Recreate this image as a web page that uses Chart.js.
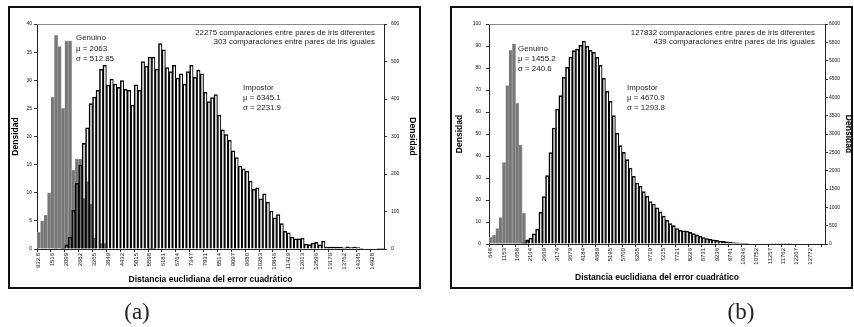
<!DOCTYPE html>
<html>
<head>
<meta charset="utf-8">
<script src="https://cdn.jsdelivr.net/npm/chart.js@4.4.1/dist/chart.umd.min.js"></script>
<style>
  html, body { margin:0; padding:0; background:#fff; }
  #page { position:relative; width:854px; height:327px; overflow:hidden; background:#fff; }
  .frame { position:absolute; border:2px solid #111; box-sizing:border-box; }
  canvas { position:absolute; top:0; }
  .txt { position:absolute; font-family:"Liberation Sans", Arial, sans-serif; font-size:7.9px; color:#222; white-space:nowrap; }
  .lbl { position:absolute; font-family:"Liberation Serif", "Times New Roman", serif; font-size:23px; line-height:23px; color:#222; width:60px; text-align:center; }
</style>
</head>
<body>
<div id="page">
  <div class="frame" style="left:8px; top:6px; width:413px; height:283px;"></div>
  <div class="frame" style="left:450px; top:6px; width:403px; height:283px;"></div>
  <canvas id="ca" width="430" height="327" style="left:0px;"></canvas>
  <canvas id="cb" width="424" height="327" style="left:430px;"></canvas>

  <div class="txt" style="right:479px; top:28px; line-height:9.4px; text-align:right;">22275 comparaciones entre pares de iris diferentes<br>303 comparaciones entre pares de iris iguales</div>
  <div class="txt" style="left:76px; top:33px; line-height:10.5px;">Genuino<br>&mu; = 2063<br>&sigma; = 512.85</div>
  <div class="txt" style="left:243px; top:83px; line-height:10px;">Impostor<br>&mu; = 6345.1<br>&sigma; = 2231.9</div>

  <div class="txt" style="right:39px; top:28px; line-height:9.4px; text-align:right;">127832 comparaciones entre pares de iris diferentes<br>439 comparaciones entre pares de iris iguales</div>
  <div class="txt" style="left:518px; top:44px; line-height:10px;">Genuino<br>&mu; = 1455.2<br>&sigma; = 240.6</div>
  <div class="txt" style="left:627px; top:83px; line-height:10px;">Impostor<br>&mu; = 4670.9<br>&sigma; = 1293.8</div>

  <div class="lbl" style="left:107px; top:300px;">(a)</div>
  <div class="lbl" style="left:711px; top:300px;">(b)</div>
</div>
<script>
// ---------- Panel (a) ----------
const ticksA = ['932.8','1516','2099','2682','3265','3849','4432','5015','5598','6181','6764','7347','7931','8514','9097','9680','10263','10846','11429','12013','12596','13179','13762','14345','14928'];
const genuineA = [3,5,6,10,27,38,36,25,37,37,14,16,16,9,12,8,2,0,1,1,
  0,0,0,0,0,0,0,0,0,0,0,0,0,0,0,0,0,0,0,0,0,0,0,0,0,0,0,0,0,0,
  0,0,0,0,0,0,0,0,0,0,0,0,0,0,0,0,0,0,0,0,0,0,0,0,0,0,0,0,0,0,
  0,0,0,0,0,0,0,0,0,0,0,0,0,0,0,0,0,0,0,0];
const impostorA = [0,0,0,0,0,0,0,2,11,32,103,175,224,
  282,323,388,405,423,479,490,437,453,440,431,449,426,423,384,438,423,500,487,512,512,480,548,531,484,473,490,456,467,440,473,490,458,477,467,418,393,
  404,412,357,318,305,290,262,
  244,221,214,208,181,159,163,134,147,125,101,83,92,68,47,43,32,27,27,29,13,12,16,18,11,21,
  5,5,5,5,5,3,6,4,5,4,2,1,0,0,1,2,2];
const leftTicksA = {max:40, step:5};
const rightTicksA = {max:600, step:100};

// ---------- Panel (b) ----------
const ticksB = ['648','1153','1658','2164','2669','3174','3679','4184','4689','5195','5700','6205','6710','7215','7721','8226','8731','9236','9741','10246','10752','11257','11762','12267','12772'];
const genuineB = [3,4,7,12,37,72,88,91,64,45,14,2,
  0,0,0,0,0,0,0,0,0,0,0,0,0,0,0,0,0,0,0,0,0,0,0,0,0,0,0,0,0,0,0,0,0,0,0,0,0,0,
  0,0,0,0,0,0,0,0,0,0,0,0,0,0,0,0,0,0,0,0,0,0,0,0,0,0,0,0,0,0,0,0,0,0,0,0,0,0,0,0,0,0,0,0,0];
const impostorB = [0,0,0,0,0,0,0,0,5,10,30,
  100,164,280,409,868,1295,1864,2490,3164,3682,
  4045,4545,4818,5100,5273,5318,5418,5536,5391,5282,
  5227,5091,4873,4518,4164,3891,3500,3027,2682,2500,
  2300,2073,1845,1664,1573,1430,1300,1160,1090,985,
  880,760,650,560,500,420,375,358,352,315,
  285,248,208,174,148,130,112,100,83,71,60,50,41,32,25,20,15,12,10,8,7,6,5,4,3,3,2,2,1,1,
  0,0,0,0,0,0,0,0,0,0];
const leftTicksB = {max:100, step:10};
const rightTicksB = {max:6000, step:500};

const BINS_PER_TICK = 4;
function buildCategories(ticks, n) {
  const cats = [];
  for (let i = 0; i < n; i++) cats.push(i % BINS_PER_TICK === 0 && ticks[i / BINS_PER_TICK] !== undefined ? ticks[i / BINS_PER_TICK] : '');
  return cats;
}

const plotFrame = {
  id: 'plotFrame',
  beforeDatasetsDraw(chart) {
    const {ctx, chartArea: a} = chart;
    ctx.save();
    ctx.strokeStyle = '#8a8a8a';
    ctx.lineWidth = 1;
    ctx.beginPath();
    ctx.moveTo(a.left, a.top + 0.5);
    ctx.lineTo(a.right, a.top + 0.5);
    ctx.stroke();
    ctx.restore();
  }
};

const FONT = '"Liberation Sans", Arial, sans-serif';
const plain = v => String(v);

function makeChart(id, ticks, gen, imp, lt, rt, g) {
  const n = Math.max(gen.length, imp.length);
  const cats = buildCategories(ticks, n);
  return new Chart(document.getElementById(id), {
    type: 'bar',
    data: {
      labels: cats,
      datasets: [
        { label: 'Impostor', data: imp, yAxisID: 'yR', order: 0, grouped: false,
          backgroundColor: 'rgba(255,255,255,0)', borderColor: '#000',
          borderWidth: { left: 0.9, top: 0.9, right: 0.45, bottom: 0 },
          categoryPercentage: 1, barPercentage: 1 },
        { label: 'Genuino', data: gen, yAxisID: 'yL', order: 1, grouped: false,
          backgroundColor: '#777777', borderColor: '#a8a8a8',
          borderWidth: { left: 0, top: 0.6, right: 0.8, bottom: 0 },
          categoryPercentage: 1, barPercentage: 1 }
      ]
    },
    options: {
      responsive: false, animation: false, devicePixelRatio: 1,
      layout: { padding: { left: g.pl, right: g.pr, top: g.pt, bottom: g.pb } },
      plugins: { legend: { display: false }, tooltip: { enabled: false } },
      scales: {
        x: {
          position: 'bottom',
          afterFit: s => { s.height = g.xh; },
          grid: { drawOnChartArea: false, tickLength: 3,
                  tickColor: c => (c.index % BINS_PER_TICK === 0 ? '#333' : 'rgba(0,0,0,0)') },
          border: { display: true, color: '#222', width: 1 },
          ticks: { autoSkip: false, maxRotation: 90, minRotation: 90, padding: 1,
                   font: { family: FONT, size: 6 }, color: '#111' },
          title: { display: true, text: 'Distancia euclidiana del error cuadrático',
                   font: { family: FONT, size: 8.5, weight: 'bold' }, color: '#000', padding: 0 }
        },
        yL: {
          position: 'left', min: 0, max: lt.max,
          afterFit: s => { s.width = g.yl; },
          grid: { drawOnChartArea: false, tickLength: 3, tickColor: '#333' },
          border: { display: true, color: '#222', width: 1 },
          ticks: { stepSize: lt.step, padding: g.lpad, callback: plain, font: { family: FONT, size: 5 }, color: '#111' },
          title: { display: true, text: 'Densidad', font: { family: FONT, size: 8.5, weight: 'bold' }, color: '#000', padding: 0 }
        },
        yR: {
          position: 'right', min: 0, max: rt.max,
          afterFit: s => { s.width = g.yr; },
          grid: { drawOnChartArea: false, tickLength: 3, tickColor: '#333' },
          border: { display: true, color: '#222', width: 1 },
          ticks: { stepSize: rt.step, padding: g.rpad, callback: plain, font: { family: FONT, size: 5 }, color: '#111' },
          title: { display: true, text: 'Densidad', font: { family: FONT, size: 8.5, weight: 'bold' }, color: '#000', padding: 0 }
        }
      }
    },
    plugins: [plotFrame]
  });
}

makeChart('ca', ticksA, genuineA, impostorA, leftTicksA, rightTicksA,
  { pl: 11, pr: 13, pt: 24, pb: 42, xh: 36, yl: 26, yr: 33, lpad: 2, rpad: 4 });
makeChart('cb', ticksB, genuineB, impostorB, leftTicksB, rightTicksB,
  { pl: 25, pr: 1, pt: 24, pb: 44, xh: 39, yl: 34, yr: 28, lpad: 5, rpad: 1 });
</script>
</body>
</html>
